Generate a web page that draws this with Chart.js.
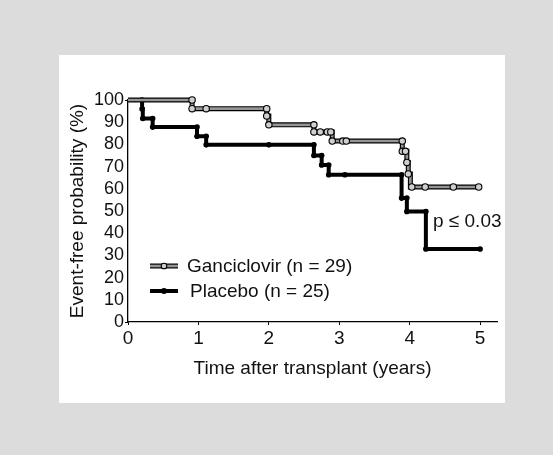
<!DOCTYPE html>
<html>
<head>
<meta charset="utf-8">
<script src="https://cdn.jsdelivr.net/npm/chart.js@4"></script>
<style>
  html, body { margin: 0; padding: 0; background: #dcdcdc; }
  #panel { position: absolute; left: 59px; top: 55px; width: 446px; height: 348px; background: #fff; }
  #grafico { position: absolute; left: 0; top: 0; }
</style>
</head>
<body>
<div id="panel"></div>
<canvas id="grafico" width="553" height="455"></canvas>
<script>
// Kaplan-Meier steps (time in years, event-free %)
const ganTempo = [0, 0.91, 1.97, 2.0, 2.64, 2.90, 3.895, 3.96, 3.98, 4.01, 5.0];
const ganSobrev = [100, 96.1, 92.8, 88.8, 85.6, 81.5, 76.9, 71.9, 66.7, 60.8, 60.8];
const plaTempo = [0, 0.2, 0.21, 0.35, 0.98, 1.11, 2.64, 2.75, 2.85, 3.885, 3.96, 4.23, 5.0];
const plaSobrev = [100, 95.9, 91.7, 87.8, 83.7, 79.8, 75.0, 70.7, 66.3, 55.8, 49.8, 32.9, 32.9];

// censor / event marks
const ganMarcaT = [0.91, 0.91, 1.11, 1.97, 1.97, 2.0, 2.64, 2.64, 2.73, 2.83, 2.88, 2.90, 3.05, 3.10, 3.895, 3.895, 3.94, 3.96, 3.98, 4.03, 4.22, 4.62, 4.98];
const ganMarcaS = [100, 96.1, 96.1, 96.1, 92.8, 88.8, 88.8, 85.6, 85.6, 85.6, 85.6, 81.5, 81.5, 81.5, 81.5, 76.9, 76.9, 71.9, 66.7, 60.8, 60.8, 60.8, 60.8];
const plaMarcaT = [0.2, 0.2, 0.21, 0.35, 0.35, 0.98, 0.98, 1.11, 1.11, 2.0, 2.64, 2.64, 2.75, 2.75, 2.85, 2.85, 3.08, 3.885, 3.885, 3.96, 3.96, 4.23, 4.23, 5.0];
const plaMarcaS = [100, 95.9, 91.7, 91.7, 87.8, 87.8, 83.7, 83.7, 79.8, 79.8, 79.8, 75.0, 75.0, 70.7, 70.7, 66.3, 66.3, 66.3, 55.8, 55.8, 49.8, 49.8, 32.9, 32.9];

const xTicks = [0, 1, 2, 3, 4, 5];
const yTicks = [0, 10, 20, 30, 40, 50, 60, 70, 80, 90, 100];

const legendas = ['Ganciclovir (n = 29)', 'Placebo (n = 25)'];
const textoP = 'p \u2264 0.03';

const FONTE = "'Liberation Sans', Arial, Helvetica, sans-serif";
const pontos = (t, s) => t.map((v, i) => ({ x: v, y: s[i] }));

const legendaPlugin = {
  id: 'legendaInterna',
  afterDraw(chart) {
    const ctx = chart.ctx;
    ctx.save();
    // ganciclovir sample
    ctx.lineCap = 'butt';
    ctx.strokeStyle = '#000'; ctx.lineWidth = 5;
    ctx.beginPath(); ctx.moveTo(150, 266); ctx.lineTo(178, 266); ctx.stroke();
    ctx.strokeStyle = '#959595'; ctx.lineWidth = 2.6;
    ctx.beginPath(); ctx.moveTo(150, 266); ctx.lineTo(178, 266); ctx.stroke();
    ctx.fillStyle = '#cfcfcf'; ctx.strokeStyle = '#000'; ctx.lineWidth = 1.1;
    ctx.beginPath(); ctx.arc(164, 266, 2.8, 0, Math.PI * 2); ctx.fill(); ctx.stroke();
    // placebo sample
    ctx.strokeStyle = '#000'; ctx.lineWidth = 4;
    ctx.beginPath(); ctx.moveTo(150, 291); ctx.lineTo(178, 291); ctx.stroke();
    ctx.fillStyle = '#000';
    ctx.beginPath(); ctx.arc(164, 291, 3, 0, Math.PI * 2); ctx.fill();

    ctx.fillStyle = '#111';
    ctx.textBaseline = 'middle';
    ctx.textAlign = 'left';
    ctx.font = '19px ' + FONTE;
    ctx.fillText(legendas[0], 187, 267);
    ctx.fillText(legendas[1], 190, 292);
    ctx.fillText(textoP, 433, 222);
    ctx.restore();
  }
};

new Chart(document.getElementById('grafico').getContext('2d'), {
  type: 'line',
  data: {
    datasets: [
      {
        label: 'gan-marcas', type: 'scatter', order: 0,
        data: pontos(ganMarcaT, ganMarcaS),
        pointRadius: 3.2, pointBackgroundColor: '#cfcfcf', pointBorderColor: '#000', pointBorderWidth: 1.1,
        showLine: false, clip: false
      },
      {
        label: legendas[0], order: 1,
        data: pontos(ganTempo, ganSobrev),
        stepped: true, borderColor: '#959595', borderWidth: 2.6,
        pointRadius: 0, fill: false, clip: false
      },
      {
        label: 'gan-contorno', order: 2,
        data: pontos(ganTempo, ganSobrev),
        stepped: true, borderColor: '#000', borderWidth: 5,
        pointRadius: 0, fill: false, clip: false
      },
      {
        label: 'pla-marcas', type: 'scatter', order: 3,
        data: pontos(plaMarcaT, plaMarcaS),
        pointRadius: 2.8, pointBackgroundColor: '#000', pointBorderColor: '#000', pointBorderWidth: 0,
        showLine: false, clip: false
      },
      {
        label: legendas[1], order: 4,
        data: pontos(plaTempo, plaSobrev),
        stepped: true, borderColor: '#000', borderWidth: 4,
        pointRadius: 0, fill: false, clip: false
      }
    ]
  },
  options: {
    responsive: false,
    animation: false,
    events: [],
    layout: { padding: { left: 62, right: 56, top: 100, bottom: 71 } },
    plugins: {
      legend: { display: false },
      tooltip: { enabled: false },
      title: { display: false }
    },
    scales: {
      x: {
        type: 'linear', min: 0, max: 5.24,
        afterBuildTicks: s => { s.ticks = xTicks.map(v => ({ value: v })); },
        afterFit: s => { s.height = 62; },
        border: { display: true, color: '#000', width: 1.3 },
        grid: { drawOnChartArea: false, drawTicks: true, tickLength: 3, color: '#000', lineWidth: 1 },
        ticks: { color: '#111', font: { family: FONTE, size: 19 }, padding: 2, maxRotation: 0, autoSkip: false },
        title: { display: true, text: 'Time after transplant (years)', color: '#111', font: { family: FONTE, size: 19 }, padding: { top: 4, bottom: 4 } }
      },
      y: {
        type: 'linear', min: 0, max: 100,
        afterBuildTicks: s => { s.ticks = yTicks.map(v => ({ value: v })); },
        afterFit: s => { s.width = 66; },
        border: { display: true, color: '#000', width: 1.3 },
        grid: {
          drawOnChartArea: false, drawTicks: true, tickLength: 3, lineWidth: 1,
          color: c => (c.tick && (c.tick.value === 0 || c.tick.value === 100)) ? '#000' : 'rgba(0,0,0,0)'
        },
        ticks: { color: '#111', font: { family: FONTE, size: 18 }, padding: 1, autoSkip: false },
        title: { display: true, text: 'Event-free probability (%)', color: '#111', font: { family: FONTE, size: 19 }, padding: { top: 4, bottom: 4 } }
      }
    }
  },
  plugins: [legendaPlugin]
});
</script>
</body>
</html>
